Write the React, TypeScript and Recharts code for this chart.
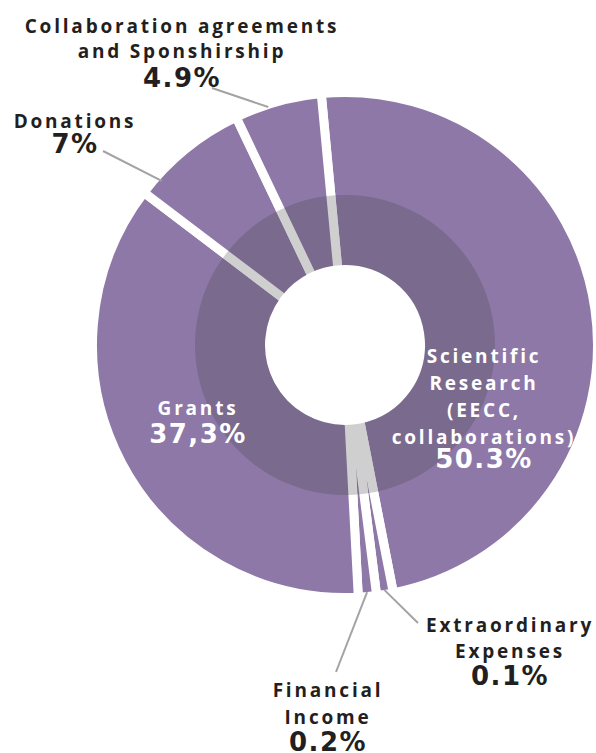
import React from 'react'
import { Pie, PieChart } from 'recharts'

// clockwise from the top
const categories = [
  'Scientific Research',
  'Extraordinary Expenses',
  'Financial Income',
  'Grants',
  'Donations',
  'Collaboration agreements and Sponshirship'
]
const shares = [50.3, 0.1, 0.2, 37.3, 7, 4.9]
const percentLabels = ['50.3%', '0.1%', '0.2%', '37,3%', '7%', '4.9%']
const labelLines = [
  ['Scientific', 'Research', '(EECC,', 'collaborations)'],
  ['Extraordinary', 'Expenses'],
  ['Financial', 'Income'],
  ['Grants'],
  ['Donations'],
  ['Collaboration agreements', 'and Sponshirship']
]

const data = categories.map((name, i) => ({ name, value: shares[i] }))
const ring = [{ name: 'inner', value: 1 }]

const PURPLE = '#8e78a8'
const LEADER = '#a3a3a3'
const LABEL_FONT = '"Open Sans", Roboto, sans-serif'
const PCT_FONT = '"DejaVu Sans", Lato, sans-serif'

// where each label sits; leader lines start on the ring at the slice angle
const labelLayout = [
  { x: 484, y: 363, gap: 27, pctGap: 24, color: '#fff' },
  { x: 510, y: 632, gap: 26, pctGap: 27, color: '#231f20', leader: { nudge: 0, r: 248, x: 418, y: 623 } },
  { x: 328, y: 697, gap: 27, pctGap: 27, color: '#231f20', leader: { nudge: 0, r: 248, x: 336, y: 672 } },
  { x: 198, y: 415, gap: 27, pctGap: 28, color: '#fff' },
  { x: 75, y: 128, gap: 27, pctGap: 25, color: '#231f20', leader: { nudge: 9, r: 246, x: 103, y: 151 } },
  { x: 182, y: 33, gap: 25, pctGap: 29, color: '#231f20', leader: { nudge: 2.4, r: 250, x: 212, y: 88 } }
]

const RAD = Math.PI / 180

function renderLabel(props: any) {
  const { cx, cy, midAngle, index } = props
  const l = labelLayout[index]
  const lines = labelLines[index]
  let leader = null
  if (l.leader) {
    const a = (midAngle + l.leader.nudge) * RAD
    const sx = cx + l.leader.r * Math.cos(a)
    const sy = cy - l.leader.r * Math.sin(a)
    leader = <line x1={sx} y1={sy} x2={l.leader.x} y2={l.leader.y} stroke={LEADER} strokeWidth={2} />
  }
  const pctY = l.y + (lines.length - 1) * l.gap + l.pctGap
  return (
    <g>
      {leader}
      {lines.map((t, k) => (
        <text
          key={k}
          x={l.x}
          y={l.y + k * l.gap}
          textAnchor="middle"
          fill={l.color}
          fontFamily={LABEL_FONT}
          fontWeight={700}
          fontSize={19}
          letterSpacing={2.8}
        >
          {t}
        </text>
      ))}
      <text
        x={l.x}
        y={pctY}
        textAnchor="middle"
        fill={l.color}
        fontFamily={PCT_FONT}
        fontWeight={700}
        fontSize={26}
        letterSpacing={1.5}
      >
        {percentLabels[index]}
      </text>
    </g>
  )
}

export default function App() {
  return (
    <div style={{ position: 'absolute', left: 0, top: 0, width: 596, height: 753, background: '#fff' }}>
      <PieChart width={596} height={753} margin={{ top: 0, right: 0, bottom: 0, left: 0 }}>
        <Pie
          data={data}
          dataKey="value"
          cx={345}
          cy={345}
          startAngle={95.4}
          endAngle={-264.6}
          innerRadius={75.5}
          outerRadius={252.5}
          minAngle={3.5}
          paddingAngle={0}
          fill={PURPLE}
          stroke="#fff"
          strokeWidth={9}
          label={renderLabel}
          labelLine={false}
          isAnimationActive={false}
        />
        <Pie
          data={ring}
          dataKey="value"
          cx={345}
          cy={345}
          startAngle={90}
          endAngle={-270}
          innerRadius={80}
          outerRadius={150}
          fill="#404040"
          fillOpacity={0.25}
          stroke="none"
          isAnimationActive={false}
        />
      </PieChart>
    </div>
  )
}
